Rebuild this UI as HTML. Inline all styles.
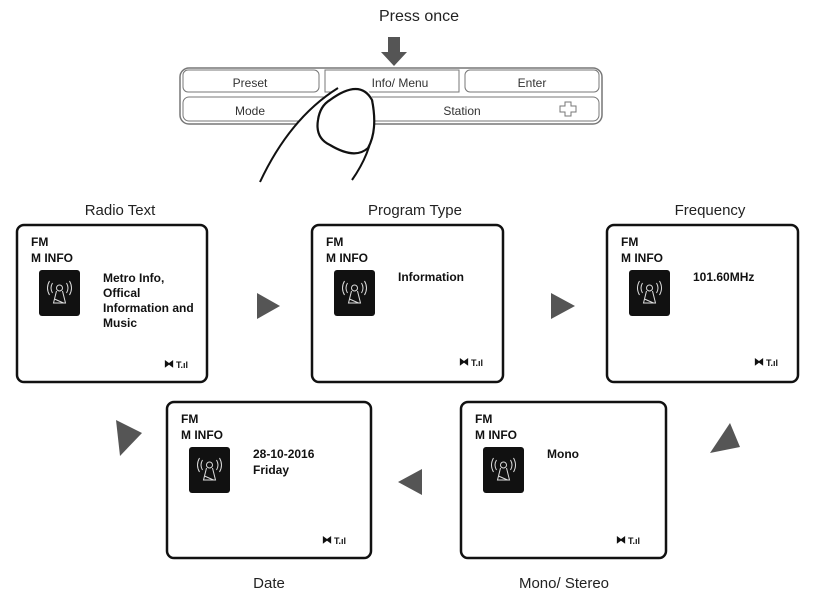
<!DOCTYPE html>
<html><head><style>
body{margin:0;background:#fff;}
svg{display:block}
.l{font-family:"Liberation Sans",sans-serif;font-size:15px;fill:#222}
.b{font-family:"Liberation Sans",sans-serif;font-weight:bold;font-size:12px;fill:#111}
.k{font-family:"Liberation Sans",sans-serif;font-size:12px;fill:#333}
</style></head><body>
<svg width="838" height="608" viewBox="0 0 838 608">
<defs>
<g id="ic">
<rect x="0" y="0" width="41" height="46" rx="3" fill="#111"/>
<g stroke="#ddd" stroke-width="1" fill="none">
<circle cx="20.5" cy="18" r="3"/>
<path d="M17.5 21 L14.5 33 L26.5 33 L23.5 21 M15.5 29 L24.5 33"/>
<path d="M13.5 13 Q10.5 18 13.5 23 M27.5 13 Q30.5 18 27.5 23 M10.5 11 Q6.5 18 10.5 25 M30.5 11 Q34.5 18 30.5 25"/>
</g></g>
<g id="sig">
<text x="0" y="0" class="b" style="font-size:10px">⧓</text>
<text x="12" y="1" class="b" style="font-size:9px">T.ıl</text>
</g>
</defs>

<text x="419" y="21" class="l" text-anchor="middle" style="font-size:16px">Press once</text>
<rect x="180" y="68" width="422" height="56" rx="9" fill="#fff" stroke="#777" stroke-width="1.5"/>
<rect x="183" y="70" width="136" height="22" rx="5" fill="#fff" stroke="#777"/>
<rect x="325" y="70" width="134" height="22" fill="#fff" stroke="#777"/>
<rect x="465" y="70" width="134" height="22" rx="5" fill="#fff" stroke="#777"/>
<rect x="183" y="97" width="416" height="24" rx="6" fill="#fff" stroke="#777"/>
<text x="250" y="87" class="k" text-anchor="middle">Preset</text>
<text x="400" y="87" class="k" text-anchor="middle">Info/ Menu</text>
<text x="532" y="87" class="k" text-anchor="middle">Enter</text>
<text x="250" y="115" class="k" text-anchor="middle">Mode</text>
<text x="462" y="115" class="k" text-anchor="middle">Station</text>
<path d="M565 102 h6 v4 h5 v6 h-5 v4 h-6 v-4 h-5 v-6 h5 z" fill="none" stroke="#777"/>
<path d="M388 37 h12 v15 h7 l-13 14 l-13 -14 h7 z" fill="#555"/>
<!-- finger -->
<path d="M260 182 Q290 118 338 88 Q368 76 374 104 Q380 140 352 182 Z" fill="#fff"/>
<path d="M260 182 Q290 118 338 88" fill="none" stroke="#111" stroke-width="2"/>
<path d="M372 100 Q380 140 352 180" fill="none" stroke="#111" stroke-width="2"/>
<path d="M330 100 Q360 78 372 100 Q378 130 368 148 Q355 160 330 145 Q315 138 318 120 Q320 106 330 100 z" fill="#fff" stroke="#111" stroke-width="2.2"/>

<text x="120" y="215" class="l" text-anchor="middle">Radio Text</text>
<text x="415" y="215" class="l" text-anchor="middle">Program Type</text>
<text x="710" y="215" class="l" text-anchor="middle">Frequency</text>
<text x="269" y="588" class="l" text-anchor="middle">Date</text>
<text x="564" y="588" class="l" text-anchor="middle">Mono/ Stereo</text>

<g stroke="#111" stroke-width="2.5" fill="#fff">
<rect x="17" y="225" width="190" height="157" rx="7"/>
<rect x="312" y="225" width="191" height="157" rx="7"/>
<rect x="607" y="225" width="191" height="157" rx="7"/>
<rect x="167" y="402" width="204" height="156" rx="7"/>
<rect x="461" y="402" width="205" height="156" rx="7"/>
</g>

<g transform="translate(31,246)"><text class="b" x="0" y="0">FM</text><text class="b" x="0" y="16">M INFO</text><use href="#ic" x="8" y="24"/><text class="b" x="72" y="36">Metro Info,</text><text class="b" x="72" y="51">Offical</text><text class="b" x="72" y="66">Information and</text><text class="b" x="72" y="81">Music</text><use href="#sig" x="133" y="121"/></g>
<g transform="translate(326,246)"><text class="b" x="0" y="0">FM</text><text class="b" x="0" y="16">M INFO</text><use href="#ic" x="8" y="24"/><text class="b" x="72" y="35">Information</text><use href="#sig" x="133" y="119"/></g>
<g transform="translate(621,246)"><text class="b" x="0" y="0">FM</text><text class="b" x="0" y="16">M INFO</text><use href="#ic" x="8" y="24"/><text class="b" x="72" y="35">101.60MHz</text><use href="#sig" x="133" y="119"/></g>
<g transform="translate(181,423)"><text class="b" x="0" y="0">FM</text><text class="b" x="0" y="16">M INFO</text><use href="#ic" x="8" y="24"/><text class="b" x="72" y="35">28-10-2016</text><text class="b" x="72" y="51">Friday</text><use href="#sig" x="141" y="120"/></g>
<g transform="translate(475,423)"><text class="b" x="0" y="0">FM</text><text class="b" x="0" y="16">M INFO</text><use href="#ic" x="8" y="24"/><text class="b" x="72" y="35">Mono</text><use href="#sig" x="141" y="120"/></g>

<g fill="#555">
<path d="M257 293 L280 306 L257 319 z"/>
<path d="M551 293 L575 306 L551 319 z"/>
<path d="M710 453 L730 423 L740 447 z"/>
<path d="M422 469 L398 482 L422 495 z"/>
<path d="M116 420 L142 433 L120 456 z"/>
</g>
</svg>
</body></html>
